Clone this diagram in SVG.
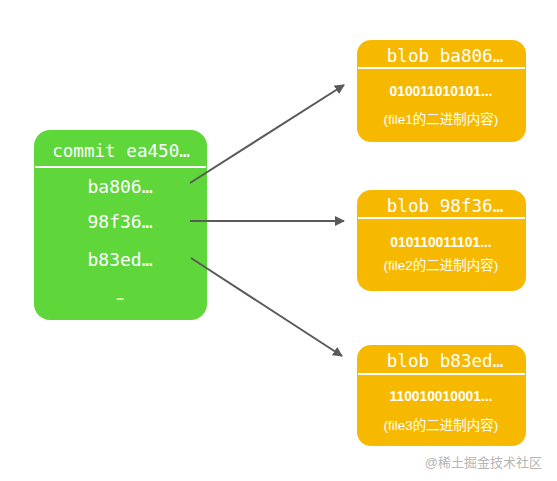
<svg xmlns="http://www.w3.org/2000/svg" width="557" height="481" viewBox="0 0 557 481">
<defs>
<style>
.green{fill:#5fd63a}
.yellow{fill:#f6b900}
.div{stroke:#fff;stroke-width:2}
.mono{font-family:"DejaVu Sans Mono","Liberation Mono",monospace;fill:#fff;text-anchor:middle}
.title{font-size:17.6px}
.hash{font-size:18px}
.bin{font-family:"Liberation Sans",Arial,sans-serif;font-weight:bold;font-size:13.8px;fill:#fff;text-anchor:middle}
.cn{font-family:"Liberation Sans","Noto Sans CJK SC",sans-serif;font-size:13.5px;fill:#fff;text-anchor:middle}
.conn{stroke:#5a5a5a;stroke-width:2;fill:none;marker-end:url(#ah)}
</style>
<marker id="ah" viewBox="0 0 10 10" refX="9" refY="5" markerWidth="5" markerHeight="5" orient="auto" markerUnits="strokeWidth">
<path d="M0,0 L10,5 L0,10 z" fill="#5a5a5a"/>
</marker>
</defs>
<rect width="557" height="481" fill="#fff"/>
<g id="commit">
<rect class="green" x="34" y="130" width="173" height="190" rx="16"/>
<line class="div" x1="35" y1="167" x2="206" y2="167"/>
<text class="mono title" x="121" y="157">commit ea450…</text>
<text class="mono hash" x="120" y="193">ba806…</text>
<text class="mono hash" x="120" y="228">98f36…</text>
<text class="mono hash" x="120" y="266">b83ed…</text>
<text class="mono" font-size="12" x="120" y="300">…</text>
</g>
<g id="blob1">
<rect class="yellow" x="357" y="40" width="169" height="102" rx="14"/>
<line class="div" x1="358" y1="68" x2="525" y2="68"/>
<text class="mono title" x="445" y="62">blob ba806…</text>
<text class="bin" x="441" y="96">010011010101...</text>
<text class="cn" x="441" y="124">(file1的二进制内容)</text>
</g>
<g id="blob2">
<rect class="yellow" x="357" y="190" width="169" height="101" rx="14"/>
<line class="div" x1="358" y1="218" x2="525" y2="218"/>
<text class="mono title" x="445" y="212">blob 98f36…</text>
<text class="bin" x="441" y="247">010110011101...</text>
<text class="cn" x="441" y="270">(file2的二进制内容)</text>
</g>
<g id="blob3">
<rect class="yellow" x="357" y="345" width="169" height="101" rx="14"/>
<line class="div" x1="358" y1="374" x2="525" y2="374"/>
<text class="mono title" x="445" y="367">blob b83ed…</text>
<text class="bin" x="441" y="401">110010010001...</text>
<text class="cn" x="441" y="430">(file3的二进制内容)</text>
</g>
<g id="connectors">
<line class="conn" x1="190" y1="183" x2="344" y2="85"/>
<line class="conn" x1="190" y1="221" x2="344" y2="221"/>
<line class="conn" x1="191" y1="258" x2="342" y2="356"/>
</g>
<text x="542" y="467" font-family="Liberation Sans,'Noto Sans CJK SC',sans-serif" font-size="13" fill="#b5b5b5" text-anchor="end">@稀土掘金技术社区</text>
</svg>
